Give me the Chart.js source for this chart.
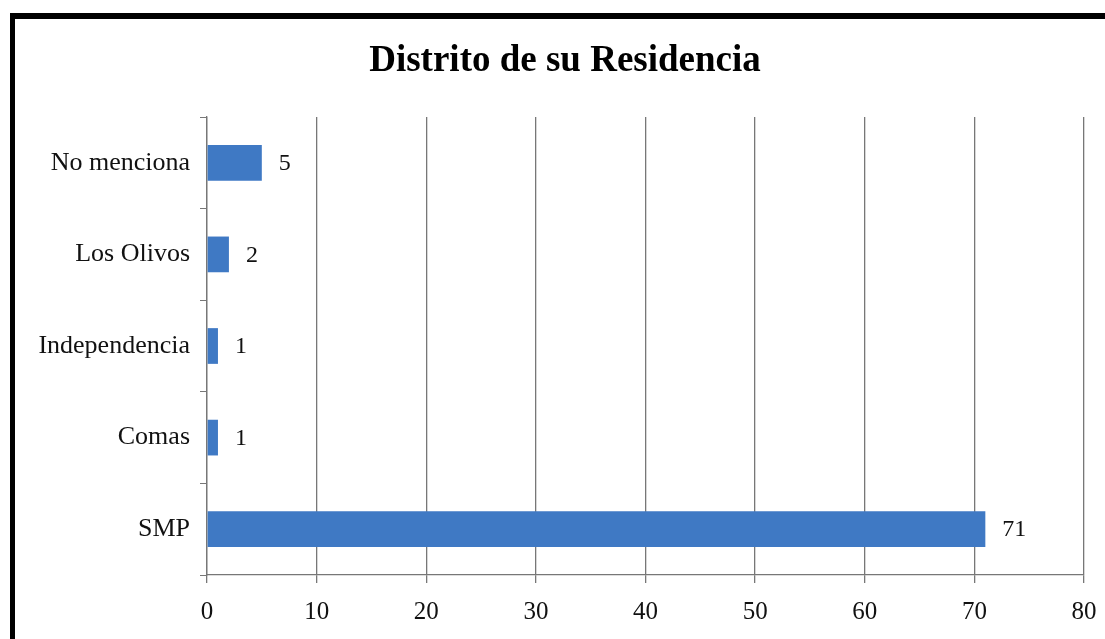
<!DOCTYPE html>
<html lang="es">
<head>
<meta charset="UTF-8">
<title>Distrito de su Residencia</title>
<script src="https://cdn.jsdelivr.net/npm/chart.js"></script>
<style>
    body { margin: 0; background: #fff; }
    #caja { position: relative; width: 1105px; height: 639px; overflow: hidden; }
    #marco {
        position: absolute; left: 10px; top: 13px; width: 1200px; height: 700px;
        border-top: 6px solid #000; border-left: 5px solid #000; pointer-events: none;
    }
    canvas { position: absolute; left: 0; top: 0; }
</style>
</head>
<body>
<div id="caja">
    <canvas id="grafico" width="1105" height="639"></canvas>
    <div id="marco"></div>
</div>

<script>
    const titulo = 'Distrito de su Residencia';
    const distritos = ['No menciona', 'Los Olivos', 'Independencia', 'Comas', 'SMP'];
    const cantidades = [5, 2, 1, 1, 71];
    const ejeX = [0, 10, 20, 30, 40, 50, 60, 70, 80];

    const fuente = 'Liberation Serif, Times New Roman, serif';

    // titulo centrado como en el original (no sobre todo el canvas)
    const tituloPlugin = {
        id: 'tituloPlugin',
        afterDraw(chart) {
            const ctx = chart.ctx;
            ctx.save();
            ctx.font = 'bold 37px ' + fuente;
            ctx.fillStyle = '#000';
            ctx.textAlign = 'center';
            ctx.textBaseline = 'middle';
            ctx.fillText(titulo, 565, 61);
            ctx.restore();
        }
    };

    // numeros al lado de cada barra
    const etiquetas = {
        id: 'etiquetas',
        afterDatasetsDraw(chart) {
            const ctx = chart.ctx;
            const meta = chart.getDatasetMeta(0);
            ctx.save();
            ctx.font = '24px ' + fuente;
            ctx.fillStyle = '#111';
            ctx.textBaseline = 'middle';
            meta.data.forEach(function (barra, i) {
                ctx.fillText(String(cantidades[i]), barra.x + 17, barra.y + 1);
            });
            ctx.restore();
        }
    };

    new Chart(document.getElementById('grafico'), {
        type: 'bar',
        data: {
            labels: distritos,
            datasets: [{
                data: cantidades,
                backgroundColor: '#3f79c4',
                borderWidth: 0,
                categoryPercentage: 1,
                barPercentage: 0.39
            }]
        },
        options: {
            indexAxis: 'y',
            responsive: false,
            animation: false,
            layout: { padding: { left: 0, right: 21, top: 117, bottom: 0 } },
            scales: {
                x: {
                    min: 0,
                    max: 80,
                    afterBuildTicks: function (scale) {
                        scale.ticks = ejeX.map(v => ({ value: v }));
                    },
                    afterFit: function (scale) {
                        scale.height = 64;
                        scale.paddingLeft = 0;
                        scale.paddingRight = 0;
                    },
                    grid: { color: '#777', lineWidth: 1.3, tickLength: 8 },
                    border: { color: '#777', width: 1.3 },
                    ticks: { color: '#111', padding: 14, font: { family: fuente, size: 25 } }
                },
                y: {
                    afterFit: function (scale) {
                        scale.width = 207;
                        scale.paddingTop = 0;
                        scale.paddingBottom = 0;
                    },
                    grid: { offset: true, drawOnChartArea: false, color: '#777', tickLength: 7 },
                    border: { color: '#777', width: 1.3 },
                    ticks: { color: '#111', padding: 10, font: { family: fuente, size: 26 } }
                }
            },
            plugins: {
                legend: { display: false },
                tooltip: { enabled: false },
                title: { display: false }
            }
        },
        plugins: [etiquetas, tituloPlugin]
    });
</script>
</body>
</html>
